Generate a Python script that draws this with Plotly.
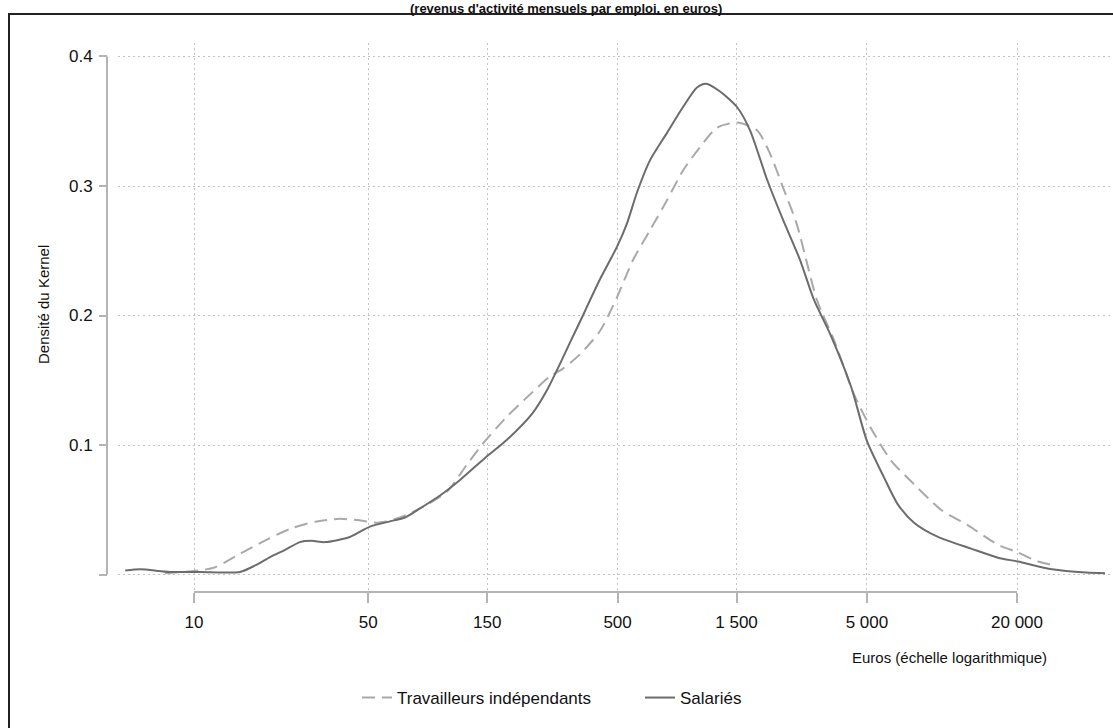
import plotly.graph_objects as go

# Kernel density of monthly earnings (log scale), by employment status
euros_salaries = [5.3, 6.1, 8.0, 10.6, 15.3, 17.6, 20.2, 23.2, 26.6, 29.7, 33.5, 42.2,
                  50.8, 61.1, 70.2, 80.6, 97, 116.7, 147, 180, 229, 260, 286, 322,
                  363, 388, 425, 497, 545, 598, 675, 789, 915, 1041, 1131, 1288,
                  1506, 1699, 1988, 2303, 2695, 3068, 3555, 4320, 5004, 5855, 6662,
                  7727, 9641, 13080, 16780, 20180, 27630, 37830, 45070]
densite_salaries = [0.003, 0.004, 0.002, 0.002, 0.002, 0.007, 0.0135, 0.019, 0.025, 0.026,
                    0.025, 0.029, 0.037, 0.041, 0.044, 0.051, 0.061, 0.073, 0.090, 0.104,
                    0.125, 0.142, 0.158, 0.179, 0.200, 0.212, 0.228, 0.253, 0.271, 0.295,
                    0.320, 0.341, 0.361, 0.376, 0.379, 0.373, 0.361, 0.343, 0.305, 0.274,
                    0.243, 0.212, 0.186, 0.145, 0.103, 0.075, 0.054, 0.040, 0.029, 0.020,
                    0.013, 0.010, 0.004, 0.0015, 0.001]

euros_independants = [7.65, 11.9, 15.3, 19.6, 24.9, 31.1, 38.5, 45.1, 54.2, 67.0, 80.6,
                      103.5, 124.5, 144, 180, 217, 268, 302, 353, 425, 497, 577, 675,
                      789, 915, 1070, 1252, 1506, 1812, 2043, 2303, 2621, 3152, 3690,
                      4438, 5192, 6247, 7514, 9913, 12720, 16780, 20180, 24280, 28140]
densite_independants = [0.001, 0.005, 0.016, 0.027, 0.036, 0.041, 0.043, 0.042, 0.040,
                        0.044, 0.051, 0.064, 0.085, 0.101, 0.122, 0.137, 0.153, 0.159,
                        0.170, 0.188, 0.214, 0.243, 0.266, 0.289, 0.312, 0.330, 0.345,
                        0.349, 0.343, 0.325, 0.299, 0.270, 0.212, 0.181, 0.139, 0.113,
                        0.088, 0.072, 0.050, 0.038, 0.023, 0.017, 0.010, 0.007]

x_tickvals = [10, 50, 150, 500, 1500, 5000, 20000]
x_ticktext = ["10", "50", "150", "500", "1 500", "5 000", "20 000"]
y_tickvals = [0, 0.1, 0.2, 0.3, 0.4]
y_ticktext = ["", "0.1", "0.2", "0.3", "0.4"]

W, H = 1113, 728
FONT = "Liberation Sans, Arial, Helvetica, sans-serif"
AXIS_GREY = "#b4b4b4"
GRID_GREY = "#c4c4c4"


def px_x(p):
    return p / W


def px_y(p):
    return 1 - p / H


fig = go.Figure()
fig.add_trace(go.Scatter(
    x=euros_independants, y=densite_independants, mode="lines",
    name="Travailleurs indépendants",
    line=dict(color="#a9a9a9", width=2, dash="13px,7px",
              shape="spline", smoothing=0.7),
))
fig.add_trace(go.Scatter(
    x=euros_salaries, y=densite_salaries, mode="lines",
    name="Salariés",
    line=dict(color="#6c6c6c", width=2, shape="spline", smoothing=0.7),
))

fig.update_layout(
    width=W, height=H,
    margin=dict(l=0, r=0, t=0, b=0),
    paper_bgcolor="white", plot_bgcolor="white",
    font=dict(family=FONT, size=17, color="#111111"),
    showlegend=True,
    legend=dict(
        orientation="h", x=px_x(357), xanchor="left",
        y=px_y(698), yanchor="middle",
        font=dict(size=17, family=FONT, color="#111111"),
        bgcolor="rgba(0,0,0,0)", entrywidth=238, entrywidthmode="pixels",
    ),
    xaxis=dict(
        type="log", range=[0.69517, 4.67399],
        domain=[px_x(118), px_x(1110)],
        anchor="free", position=px_y(592),
        tickvals=x_tickvals, ticktext=x_ticktext,
        ticks="outside", ticklen=10, tickwidth=2, tickcolor=AXIS_GREY,
        ticklabelstandoff=5,
        showline=False, zeroline=False,
        showgrid=True, gridcolor=GRID_GREY, gridwidth=1, griddash="2px,3px",
        tickfont=dict(size=17, family=FONT, color="#111111"),
    ),
    yaxis=dict(
        range=[-0.01197, 0.41042],
        domain=[px_y(590), px_y(43)],
        anchor="free", position=px_x(107),
        tickvals=y_tickvals, ticktext=y_ticktext,
        ticks="outside", ticklen=8, tickwidth=2, tickcolor=AXIS_GREY,
        ticklabelstandoff=3,
        showline=False, zeroline=False,
        showgrid=True, gridcolor=GRID_GREY, gridwidth=1, griddash="2px,3px",
        tickfont=dict(size=17, family=FONT, color="#111111"),
    ),
)

# Detached axis lines spanning only the labelled range
fig.add_shape(type="line", xref="x", yref="paper",
              x0=10, x1=20000, y0=px_y(592), y1=px_y(592),
              line=dict(color=AXIS_GREY, width=2))
fig.add_shape(type="line", xref="paper", yref="y",
              x0=px_x(107), x1=px_x(107), y0=0, y1=0.4,
              line=dict(color=AXIS_GREY, width=2))

# Outer frame
fig.add_shape(type="rect", xref="paper", yref="paper",
              x0=px_x(9), x1=1.02, y0=-0.02, y1=px_y(14),
              line=dict(color="#222222", width=2), layer="below")

# Titles
fig.add_annotation(
    text="<b>(revenus d'activité mensuels par emploi, en euros)</b>",
    xref="paper", yref="paper", x=px_x(566), y=1,
    xanchor="center", yanchor="top", showarrow=False, borderpad=0,
    font=dict(size=13, family=FONT, color="#111111"),
)
fig.add_annotation(
    text="Euros (échelle logarithmique)",
    xref="paper", yref="paper", x=px_x(949), y=px_y(657),
    xanchor="center", yanchor="middle", showarrow=False,
    font=dict(size=15, family=FONT, color="#111111"),
)
fig.add_annotation(
    text="Densité du Kernel",
    xref="paper", yref="paper", x=px_x(43), y=px_y(305),
    xanchor="center", yanchor="middle", showarrow=False, textangle=-90,
    font=dict(size=15, family=FONT, color="#111111"),
)

fig.write_html("out.html")
